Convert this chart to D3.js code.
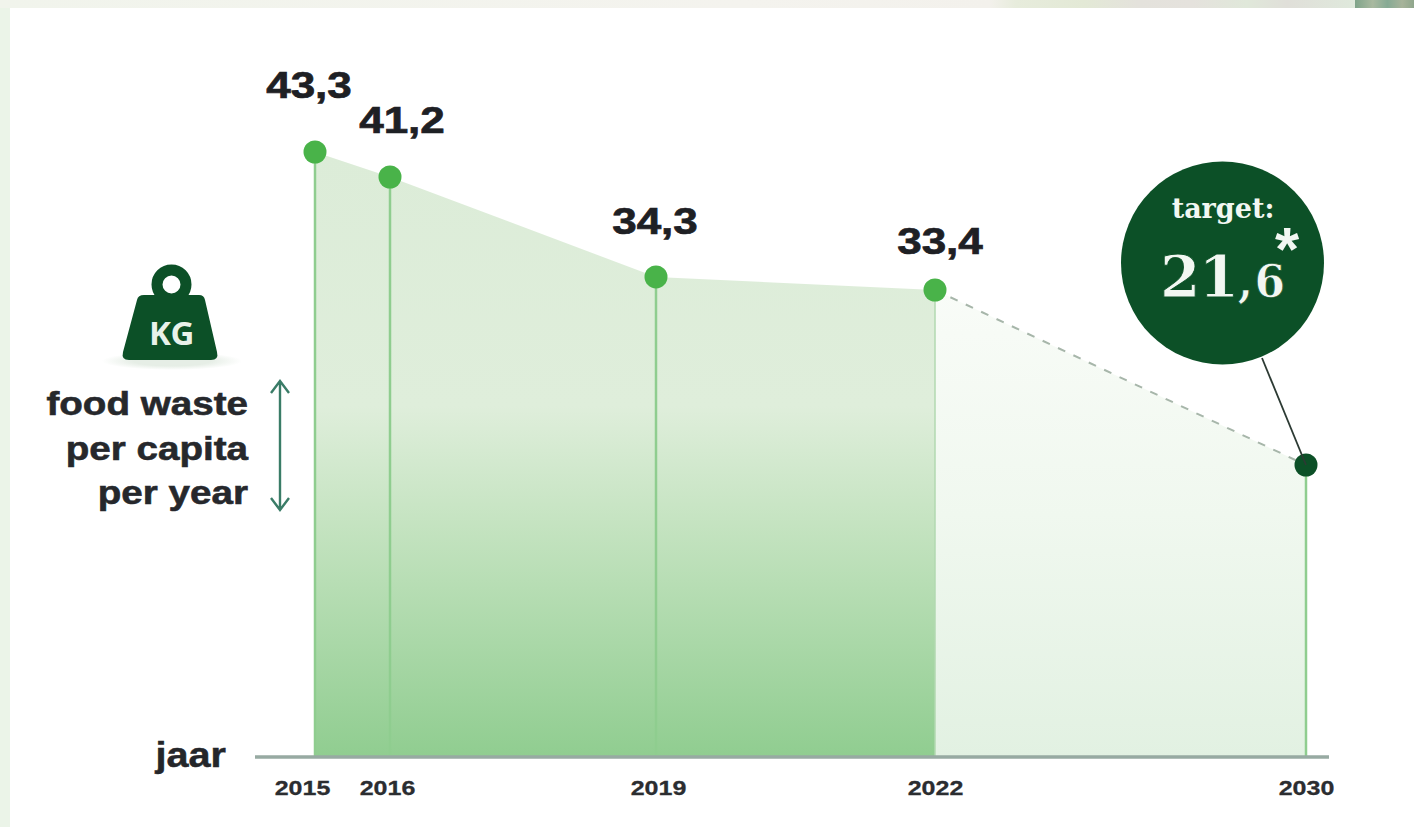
<!DOCTYPE html>
<html lang="nl">
<head>
<meta charset="utf-8">
<title>Food waste per capita</title>
<script src="https://cdn.jsdelivr.net/npm/d3@7"></script>
<style>
  html, body { margin: 0; padding: 0; background: #fff; overflow: hidden; }
  svg { display: block; }
  text { font-family: "Liberation Sans", Arial, sans-serif; font-weight: 700; fill: #24262a; }
</style>
</head>
<body>
<svg id="chart" width="1414" height="827"></svg>
<script>
// Measured years and the 2030 target (kg of food waste per person per year)
const years = [2015, 2016, 2019, 2022, 2030];
const values = [43.3, 41.2, 34.3, 33.4, 21.6];
const valueLabels = ["43,3", "41,2", "34,3", "33,4", "21,6"];
const lastMeasuredYear = 2022;
const targetYear = 2030;
const yAxisWords = ["food waste", "per capita", "per year"];

const W = 1414, H = 827;
const svg = d3.select("#chart");
const defs = svg.append("defs");

// The timeline is drawn schematically, so both scales are piecewise
const x = d3.scaleLinear().domain(years).range([315, 390, 656, 935, 1306]);
const y = d3.scaleLinear().domain([0, 21.6, 33.4, 41.2, 43.3]).range([757, 465, 290, 177, 152]);
const baseY = y(0);

const points = years.map((yr, i) => ({ yr, v: values[i], label: valueLabels[i] }));
const measured = points.filter(d => d.yr <= lastMeasuredYear);
const projected = points.filter(d => d.yr >= lastMeasuredYear);

// Stretches glyphs horizontally so the grotesque face reads wider
function widen(selection, factor) {
  selection.each(function () {
    const len = this.getComputedTextLength();
    d3.select(this).attr("textLength", len * factor).attr("lengthAdjust", "spacingAndGlyphs");
  });
  return selection;
}

function verticalGradient(id, stops) {
  const g = defs.append("linearGradient").attr("id", id)
    .attr("gradientUnits", "userSpaceOnUse")
    .attr("x1", 0).attr("x2", 0).attr("y1", y(43.3)).attr("y2", baseY);
  stops.forEach(([o, c]) => g.append("stop").attr("offset", o).attr("stop-color", c));
}
verticalGradient("measuredFill", [[0, "#dcecd8"], [0.42, "#dfeedb"], [0.62, "#c4e3c0"], [1, "#90cd90"]]);
verticalGradient("projectedFill", [[0, "#ffffff"], [0.3, "#f7fbf6"], [0.6, "#f0f8ef"], [1, "#e2f1e2"]]);

// Page furniture: pale strip on the left and a band of photo along the top
svg.append("rect").attr("width", 10).attr("height", H).attr("fill", "#ebf4e8");
const band = defs.append("linearGradient").attr("id", "band");
[[0, "#f1f4ec"], [0.55, "#f4f3ee"], [0.73, "#f3f1ec"], [0.75, "#e7ecdc"], [0.8, "#e3e9d6"],
 [0.84, "#e4e2dc"], [0.88, "#e5e2dd"], [0.92, "#e0e8da"], [0.95, "#e0dfd9"], [1, "#dfe9dc"]]
  .forEach(([o, c]) => band.append("stop").attr("offset", o).attr("stop-color", c));
svg.append("rect").attr("width", 1355).attr("height", 8).attr("fill", "url(#band)");
const photo = defs.append("linearGradient").attr("id", "photo");
[[0, "#7fa48a"], [0.3, "#a9b9a0"], [0.55, "#86aa94"], [0.8, "#a7b39a"], [1, "#8fa68c"]]
  .forEach(([o, c]) => photo.append("stop").attr("offset", o).attr("stop-color", c));
svg.append("rect").attr("x", 1355).attr("width", 59).attr("height", 8).attr("fill", "url(#photo)");

// Areas under the measured and projected stretches
const area = d3.area().x(d => x(d.yr)).y0(baseY).y1(d => y(d.v));
svg.append("path").datum(projected).attr("d", area).attr("fill", "url(#projectedFill)");
svg.append("path").datum(measured).attr("d", area).attr("fill", "url(#measuredFill)");

// Stems from the baseline to every point
svg.append("g").selectAll("line").data(points).join("line")
  .attr("x1", d => x(d.yr)).attr("x2", d => x(d.yr))
  .attr("y1", d => y(d.v)).attr("y2", baseY)
  .attr("stroke", d => d.yr === lastMeasuredYear ? "#b2d8b0" : "#8fcd8f")
  .attr("stroke-width", d => d.yr === lastMeasuredYear ? 1.5 : 2.5);

// Dashed projection towards the target
svg.append("path").datum(projected)
  .attr("d", d3.line().x(d => x(d.yr)).y(d => y(d.v)))
  .attr("fill", "none").attr("stroke", "#a7b6aa").attr("stroke-width", 2)
  .attr("stroke-dasharray", "8 9");

// Baseline and year labels
svg.append("line").attr("x1", 255).attr("x2", 1329).attr("y1", baseY).attr("y2", baseY)
  .attr("stroke", "#97aaa2").attr("stroke-width", 3.5);
const axis = d3.axisBottom(x).tickValues(years).tickFormat(d3.format("d")).tickSize(0).tickPadding(0);
const axisG = svg.append("g").attr("transform", `translate(0,${baseY})`).call(axis);
axisG.select(".domain").remove();
axisG.selectAll("text")
  .attr("dy", 0).attr("y", 38)
  .attr("dx", d => d === 2015 ? -13 : d === 2016 ? -3 : d === 2019 ? 2 : 0)
  .style("font-size", "21px")
  .style("font-family", '"Liberation Sans", Arial, sans-serif')
  .style("fill", "#2b2d30").style("stroke", "#2b2d30").style("stroke-width", 0.3)
  .call(widen, 1.19);

svg.append("text").attr("x", 226).attr("y", 767).attr("text-anchor", "end")
  .style("font-size", "35px")
  .style("stroke", "#24262a").style("stroke-width", 0.5).text("jaar")
  .call(widen, 1.13);

// Point markers and value labels
svg.append("g").selectAll("circle").data(points).join("circle")
  .attr("cx", d => x(d.yr)).attr("cy", d => y(d.v)).attr("r", 11.5)
  .attr("fill", d => d.yr === targetYear ? "#0c5027" : "#49b349");

const labelOffset = { 2015: [-6, -54], 2016: [12, -44], 2019: [-1, -43], 2022: [5, -36] };
svg.append("g").selectAll("text").data(measured).join("text")
  .attr("x", d => x(d.yr) + labelOffset[d.yr][0])
  .attr("y", d => y(d.v) + labelOffset[d.yr][1])
  .attr("text-anchor", "middle")
  .style("font-size", "37px")
  .style("fill", "#1e2024").style("stroke", "#1e2024").style("stroke-width", 0.7)
  .text(d => d.label)
  .call(widen, 1.19);

// Target badge, tied to the 2030 point by a thin leader
const target = points[points.length - 1];
const badge = { cx: 1222.5, cy: 263, r: 101.5 };
svg.append("line").attr("x1", 1262).attr("y1", 358)
  .attr("x2", x(target.yr)).attr("y2", y(target.v))
  .attr("stroke", "#2c3a33").attr("stroke-width", 1.8);
svg.append("circle").attr("cx", badge.cx).attr("cy", badge.cy).attr("r", badge.r).attr("fill", "#0c5027");
svg.append("text").attr("x", 1223).attr("y", 218).attr("text-anchor", "middle")
  .style("font-family", '"DejaVu Serif", serif').style("font-size", "27px").style("fill", "#f2f7f2")
  .text("target:");
const big = svg.append("text").attr("x", 1160).attr("y", 297)
  .style("font-family", '"DejaVu Serif", serif').style("font-weight", 700).style("fill", "#f2f7f2");
big.append("tspan").style("font-size", "58px").style("letter-spacing", "-1.5px")
  .style("stroke", "#0c5027").style("stroke-width", 0.9)
  .text(target.label.split(",")[0]);
big.append("tspan").style("font-size", "44px").style("letter-spacing", "1.5px")
  .style("stroke", "#0c5027").style("stroke-width", 0.7)
  .text("," + target.label.split(",")[1]);
// The asterisk belongs to the figure, raised beyond its last digit
big.append("tspan").attr("x", 1275).attr("y", 270)
  .style("font-family", '"Liberation Sans", Arial, sans-serif').style("font-size", "62px")
  .text("*");

// Kilo weight icon
const icon = svg.append("g");
const shadow = defs.append("radialGradient").attr("id", "iconShadow");
shadow.append("stop").attr("offset", 0.55).attr("stop-color", "#e6eee6");
shadow.append("stop").attr("offset", 1).attr("stop-color", "#ffffff");
icon.append("ellipse").attr("cx", 172).attr("cy", 361).attr("rx", 70).attr("ry", 9).attr("fill", "url(#iconShadow)");
icon.append("circle").attr("cx", 171.5).attr("cy", 284.5).attr("r", 14.5)
  .attr("fill", "none").attr("stroke", "#0c5027").attr("stroke-width", 11);
icon.append("path")
  .attr("d", "M144 295 H199 Q204 295 205 300 L217 352 Q219 360 211 360 H129 Q121 360 123 352 L137 300 Q138 295 144 295 Z")
  .attr("fill", "#0c5027");
icon.append("text").attr("x", 171.5).attr("y", 345).attr("text-anchor", "middle")
  .style("font-family", '"Open Sans", sans-serif').style("font-size", "33px").style("letter-spacing", "-0.5px")
  .style("fill", "#e9f2ea").text("KG");

// Description of the measure, with its double-headed arrow
svg.append("g").selectAll("text").data(yAxisWords).join("text")
  .attr("x", 248).attr("y", (d, i) => 415 + i * 44.5).attr("text-anchor", "end")
  .style("font-size", "34px").style("fill", "#26282c")
  .style("stroke", "#26282c").style("stroke-width", 0.6)
  .text(d => d)
  .call(widen, 1.135);

svg.append("path")
  .attr("d", "M280 381 V510 M271 393 L280 381 L289 393 M271 498 L280 510 L289 498")
  .attr("fill", "none").attr("stroke", "#3a7c67").attr("stroke-width", 2.4);
</script>
</body>
</html>
